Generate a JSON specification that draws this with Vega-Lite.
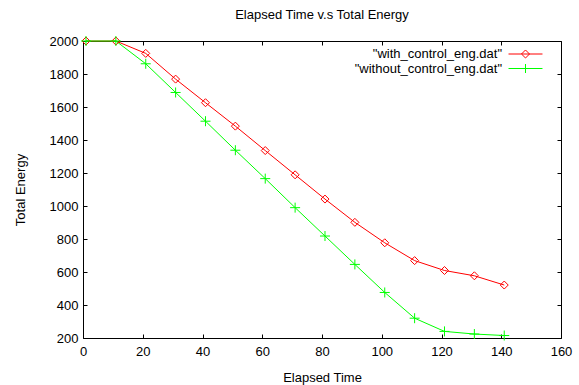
{
  "$schema": "https://vega.github.io/schema/vega-lite/v6.json",
  "width": 478,
  "height": 297,
  "autosize": {"type": "none"},
  "padding": {"left": 83, "top": 41, "right": 18, "bottom": 47},
  "title": {"text": "Elapsed Time v.s Total Energy", "fontSize": 13, "fontWeight": "normal", "font": "Liberation Sans", "color": "#000", "offset": 12, "anchor": "middle"},
  "config": {"view": {"stroke": "#000", "strokeWidth": 1}, "font": "Liberation Sans"},
  "data": {"values": [
    {"t": 1, "energy": 2000, "series": "with_control_eng.dat"},
    {"t": 11, "energy": 2000, "series": "with_control_eng.dat"},
    {"t": 21, "energy": 1925, "series": "with_control_eng.dat"},
    {"t": 31, "energy": 1769, "series": "with_control_eng.dat"},
    {"t": 41, "energy": 1626, "series": "with_control_eng.dat"},
    {"t": 51, "energy": 1484, "series": "with_control_eng.dat"},
    {"t": 61, "energy": 1336, "series": "with_control_eng.dat"},
    {"t": 71, "energy": 1189, "series": "with_control_eng.dat"},
    {"t": 81, "energy": 1042, "series": "with_control_eng.dat"},
    {"t": 91, "energy": 901, "series": "with_control_eng.dat"},
    {"t": 101, "energy": 777, "series": "with_control_eng.dat"},
    {"t": 111, "energy": 669, "series": "with_control_eng.dat"},
    {"t": 121, "energy": 609, "series": "with_control_eng.dat"},
    {"t": 131, "energy": 577, "series": "with_control_eng.dat"},
    {"t": 141, "energy": 521, "series": "with_control_eng.dat"},
    {"t": 1, "energy": 2000, "series": "without_control_eng.dat"},
    {"t": 11, "energy": 2000, "series": "without_control_eng.dat"},
    {"t": 21, "energy": 1862, "series": "without_control_eng.dat"},
    {"t": 31, "energy": 1688, "series": "without_control_eng.dat"},
    {"t": 41, "energy": 1514, "series": "without_control_eng.dat"},
    {"t": 51, "energy": 1338, "series": "without_control_eng.dat"},
    {"t": 61, "energy": 1166, "series": "without_control_eng.dat"},
    {"t": 71, "energy": 990, "series": "without_control_eng.dat"},
    {"t": 81, "energy": 818, "series": "without_control_eng.dat"},
    {"t": 91, "energy": 646, "series": "without_control_eng.dat"},
    {"t": 101, "energy": 476, "series": "without_control_eng.dat"},
    {"t": 111, "energy": 320, "series": "without_control_eng.dat"},
    {"t": 121, "energy": 240, "series": "without_control_eng.dat"},
    {"t": 131, "energy": 224, "series": "without_control_eng.dat"},
    {"t": 141, "energy": 215, "series": "without_control_eng.dat"}
  ]},
  "encoding": {
    "x": {"field": "t", "type": "quantitative", "scale": {"domain": [0, 160], "nice": false, "zero": false}},
    "y": {"field": "energy", "type": "quantitative", "scale": {"domain": [200, 2000], "nice": false, "zero": false}}
  },
  "layer": [
    {
      "transform": [{"filter": "datum.series == 'with_control_eng.dat'"}],
      "mark": {"type": "line", "strokeWidth": 1, "color": "#ff0000"},
      "encoding": {
        "x": {"field": "t", "type": "quantitative",
          "axis": {"orient": "bottom", "values": [0, 20, 40, 60, 80, 100, 120, 140, 160], "title": "Elapsed Time",
            "titleFontSize": 13, "titleFontWeight": "normal", "titleColor": "#000", "titleFont": "Liberation Sans",
            "labelFontSize": 13, "labelColor": "#000", "labelFont": "Liberation Sans", "labelFlush": false,
            "tickSize": -4, "tickColor": "#000", "domain": false, "grid": false, "labelPadding": 11, "titlePadding": 13}},
        "y": {"field": "energy", "type": "quantitative",
          "axis": {"orient": "left", "values": [200, 400, 600, 800, 1000, 1200, 1400, 1600, 1800, 2000], "format": "d", "title": "Total Energy",
            "titleFontSize": 13, "titleFontWeight": "normal", "titleColor": "#000", "titleFont": "Liberation Sans",
            "labelFontSize": 13, "labelColor": "#000", "labelFont": "Liberation Sans", "labelFlush": false,
            "tickSize": -4, "tickColor": "#000", "domain": false, "grid": false, "labelPadding": 9, "titlePadding": 22}}
      }
    },
    {
      "transform": [{"filter": "datum.series == 'without_control_eng.dat'"}],
      "mark": {"type": "line", "strokeWidth": 1, "color": "#00ff00"},
      "encoding": {
        "x": {"field": "t", "type": "quantitative",
          "axis": {"orient": "top", "values": [0, 20, 40, 60, 80, 100, 120, 140, 160], "title": null, "labels": false,
            "tickSize": -4, "tickColor": "#000", "domain": false, "grid": false}},
        "y": {"field": "energy", "type": "quantitative",
          "axis": {"orient": "right", "values": [200, 400, 600, 800, 1000, 1200, 1400, 1600, 1800, 2000], "title": null, "labels": false,
            "tickSize": -4, "tickColor": "#000", "domain": false, "grid": false}}
      }
    },
    {
      "transform": [{"filter": "datum.series == 'with_control_eng.dat'"}],
      "mark": {"type": "point", "filled": false, "strokeWidth": 1, "size": 64, "opacity": 1, "color": "#ff0000", "shape": "M0,-1L1,0L0,1L-1,0Z"},
      "encoding": {
        "x": {"field": "t", "type": "quantitative", "axis": null},
        "y": {"field": "energy", "type": "quantitative", "axis": null}
      }
    },
    {
      "transform": [{"filter": "datum.series == 'without_control_eng.dat'"}],
      "mark": {"type": "point", "filled": false, "strokeWidth": 1, "size": 64, "opacity": 1, "color": "#00ff00", "shape": "M-1.25,0H1.25M0,-1.25V1.25"},
      "encoding": {
        "x": {"field": "t", "type": "quantitative", "axis": null},
        "y": {"field": "energy", "type": "quantitative", "axis": null}
      }
    },
    {
      "transform": [{"filter": "datum.t < 0"}],
      "mark": {"type": "point", "filled": false, "strokeWidth": 1, "opacity": 1},
      "encoding": {
        "x": {"field": "t", "type": "quantitative", "axis": null},
        "y": {"field": "energy", "type": "quantitative", "axis": null},
        "color": {"field": "series", "type": "nominal",
          "scale": {"domain": ["with_control_eng.dat", "without_control_eng.dat"], "range": ["#ff0000", "#00ff00"]},
          "legend": {"orient": "none", "legendX": 436, "legendY": 6.5, "title": null, "rowPadding": 0.5,
            "labelAlign": "right", "labelOffset": -30, "labelFontSize": 13, "labelColor": "#000", "labelFont": "Liberation Sans",
            "symbolSize": 144, "symbolStrokeWidth": 1, "symbolOpacity": 1,
            "labelExpr": "'\"' + datum.label + '\"'"}},
        "shape": {"field": "series", "type": "nominal",
          "scale": {"domain": ["with_control_eng.dat", "without_control_eng.dat"],
            "range": ["M-2.83,0H2.83M0,-0.667L0.667,0L0,0.667L-0.667,0Z", "M-2.83,0H2.83M0,-0.75V0.75"]},
          "legend": {"orient": "none", "legendX": 436, "legendY": 6.5, "title": null, "rowPadding": 0.5,
            "labelAlign": "right", "labelOffset": -30, "labelFontSize": 13, "labelColor": "#000", "labelFont": "Liberation Sans",
            "symbolSize": 144, "symbolStrokeWidth": 1, "symbolOpacity": 1,
            "labelExpr": "'\"' + datum.label + '\"'"}}
      }
    }
  ],
  "resolve": {"axis": {"x": "independent", "y": "independent"}}
}
